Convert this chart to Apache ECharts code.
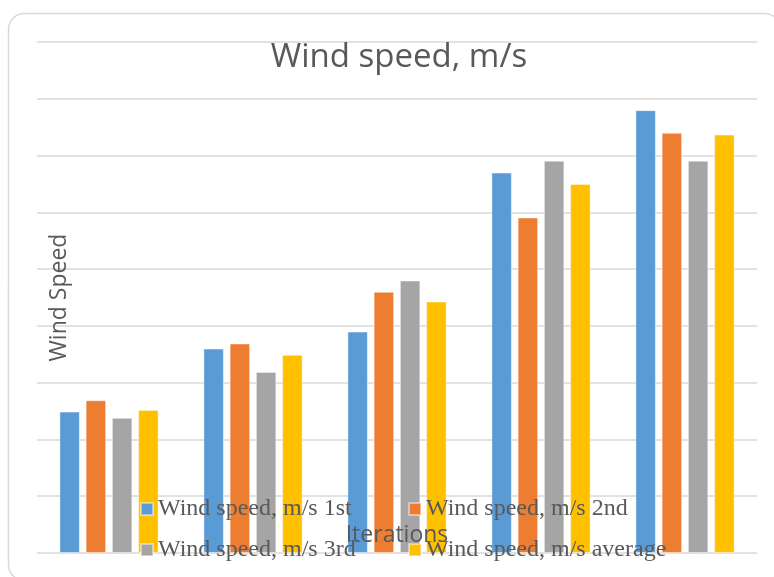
<!DOCTYPE html>
<html>
<head>
<meta charset="utf-8">
<script src="https://cdn.jsdelivr.net/npm/echarts@6/dist/echarts.min.js"></script>
<style>
  html, body { margin: 0; padding: 0; background: #ffffff; }
  #chart { width: 774px; height: 577px; }
</style>
</head>
<body>
<div id="chart"></div>
<script>
// Iteration groups (no tick labels are shown on the category axis)
const iterations = ['1', '2', '3', '4', '5'];

// Wind speed per iteration, one array per run
const speed1st = [2.49, 3.60, 3.90, 6.70, 7.80];
const speed2nd = [2.69, 3.69, 4.60, 5.91, 7.40];
const speed3rd = [2.38, 3.19, 4.80, 6.91, 6.91];
const speedAvg = [2.52, 3.49, 4.43, 6.50, 7.37];

const seriesNames = [
  'Wind speed, m/s 1st',
  'Wind speed, m/s 2nd',
  'Wind speed, m/s 3rd',
  'Wind speed, m/s average'
];
const seriesData = [speed1st, speed2nd, speed3rd, speedAvg];
const palette = ['#5B9BD5', '#ED7D31', '#A5A5A5', '#FFC000'];

const chart = echarts.init(document.getElementById('chart'), null, { renderer: 'canvas' });

const legendText = {
  fontFamily: '"Liberation Serif", "Times New Roman", serif',
  fontSize: 24,
  color: '#595959',
  width: 240,
  lineHeight: 24
};

const option = {
  backgroundColor: '#ffffff',
  color: palette,
  animation: false,
  graphic: [{
    type: 'rect',
    z: -10,
    shape: { x: 8.5, y: 13.5, width: 772, height: 567, r: 16 },
    style: { fill: '#ffffff', stroke: '#d9d9d9', lineWidth: 1.5 }
  }],
  title: {
    text: 'Wind speed, m/s',
    left: 399,
    textAlign: 'center',
    top: 41,
    padding: 0,
    textStyle: {
      fontFamily: '"Open Sans", sans-serif',
      fontSize: 33,
      fontWeight: 'normal',
      color: '#595959'
    }
  },
  legend: [{
    data: seriesNames.slice(0, 2),
    left: 140,
    top: 497,
    padding: 0,
    itemWidth: 12,
    itemHeight: 12,
    itemGap: 10,
    icon: 'rect',
    textStyle: legendText
  }, {
    data: seriesNames.slice(2, 4),
    left: 140,
    top: 538,
    padding: 0,
    itemWidth: 12,
    itemHeight: 12,
    itemGap: 10,
    icon: 'rect',
    textStyle: legendText
  }],
  grid: {
    left: 37,
    right: 17,
    top: 42,
    bottom: 24,
    containLabel: false
  },
  xAxis: {
    type: 'category',
    data: iterations,
    z: 5,
    name: 'Iterations',
    nameLocation: 'middle',
    nameGap: -18,
    nameTextStyle: {
      fontFamily: '"Open Sans", sans-serif',
      fontSize: 23,
      color: '#595959',
      verticalAlign: 'middle'
    },
    axisLine: { show: false },
    axisTick: { show: false },
    axisLabel: { show: false }
  },
  yAxis: {
    type: 'value',
    min: 0,
    max: 9,
    interval: 1,
    name: 'Wind Speed',
    nameLocation: 'middle',
    nameGap: -22,
    nameTextStyle: {
      fontFamily: '"Open Sans", sans-serif',
      fontSize: 23,
      color: '#595959',
      verticalAlign: 'middle'
    },
    axisLine: { show: false },
    axisTick: { show: false },
    axisLabel: { show: false },
    splitLine: { lineStyle: { color: '#d9d9d9', width: 1.5 } }
  },
  series: seriesNames.map((name, i) => ({
    name: name,
    type: 'bar',
    data: seriesData[i],
    barWidth: 20.5,
    barGap: '28%',
    itemStyle: {
      color: palette[i],
      borderColor: 'rgba(255,255,255,0.45)',
      borderWidth: 1
    }
  }))
};

chart.setOption(option);
</script>
</body>
</html>
